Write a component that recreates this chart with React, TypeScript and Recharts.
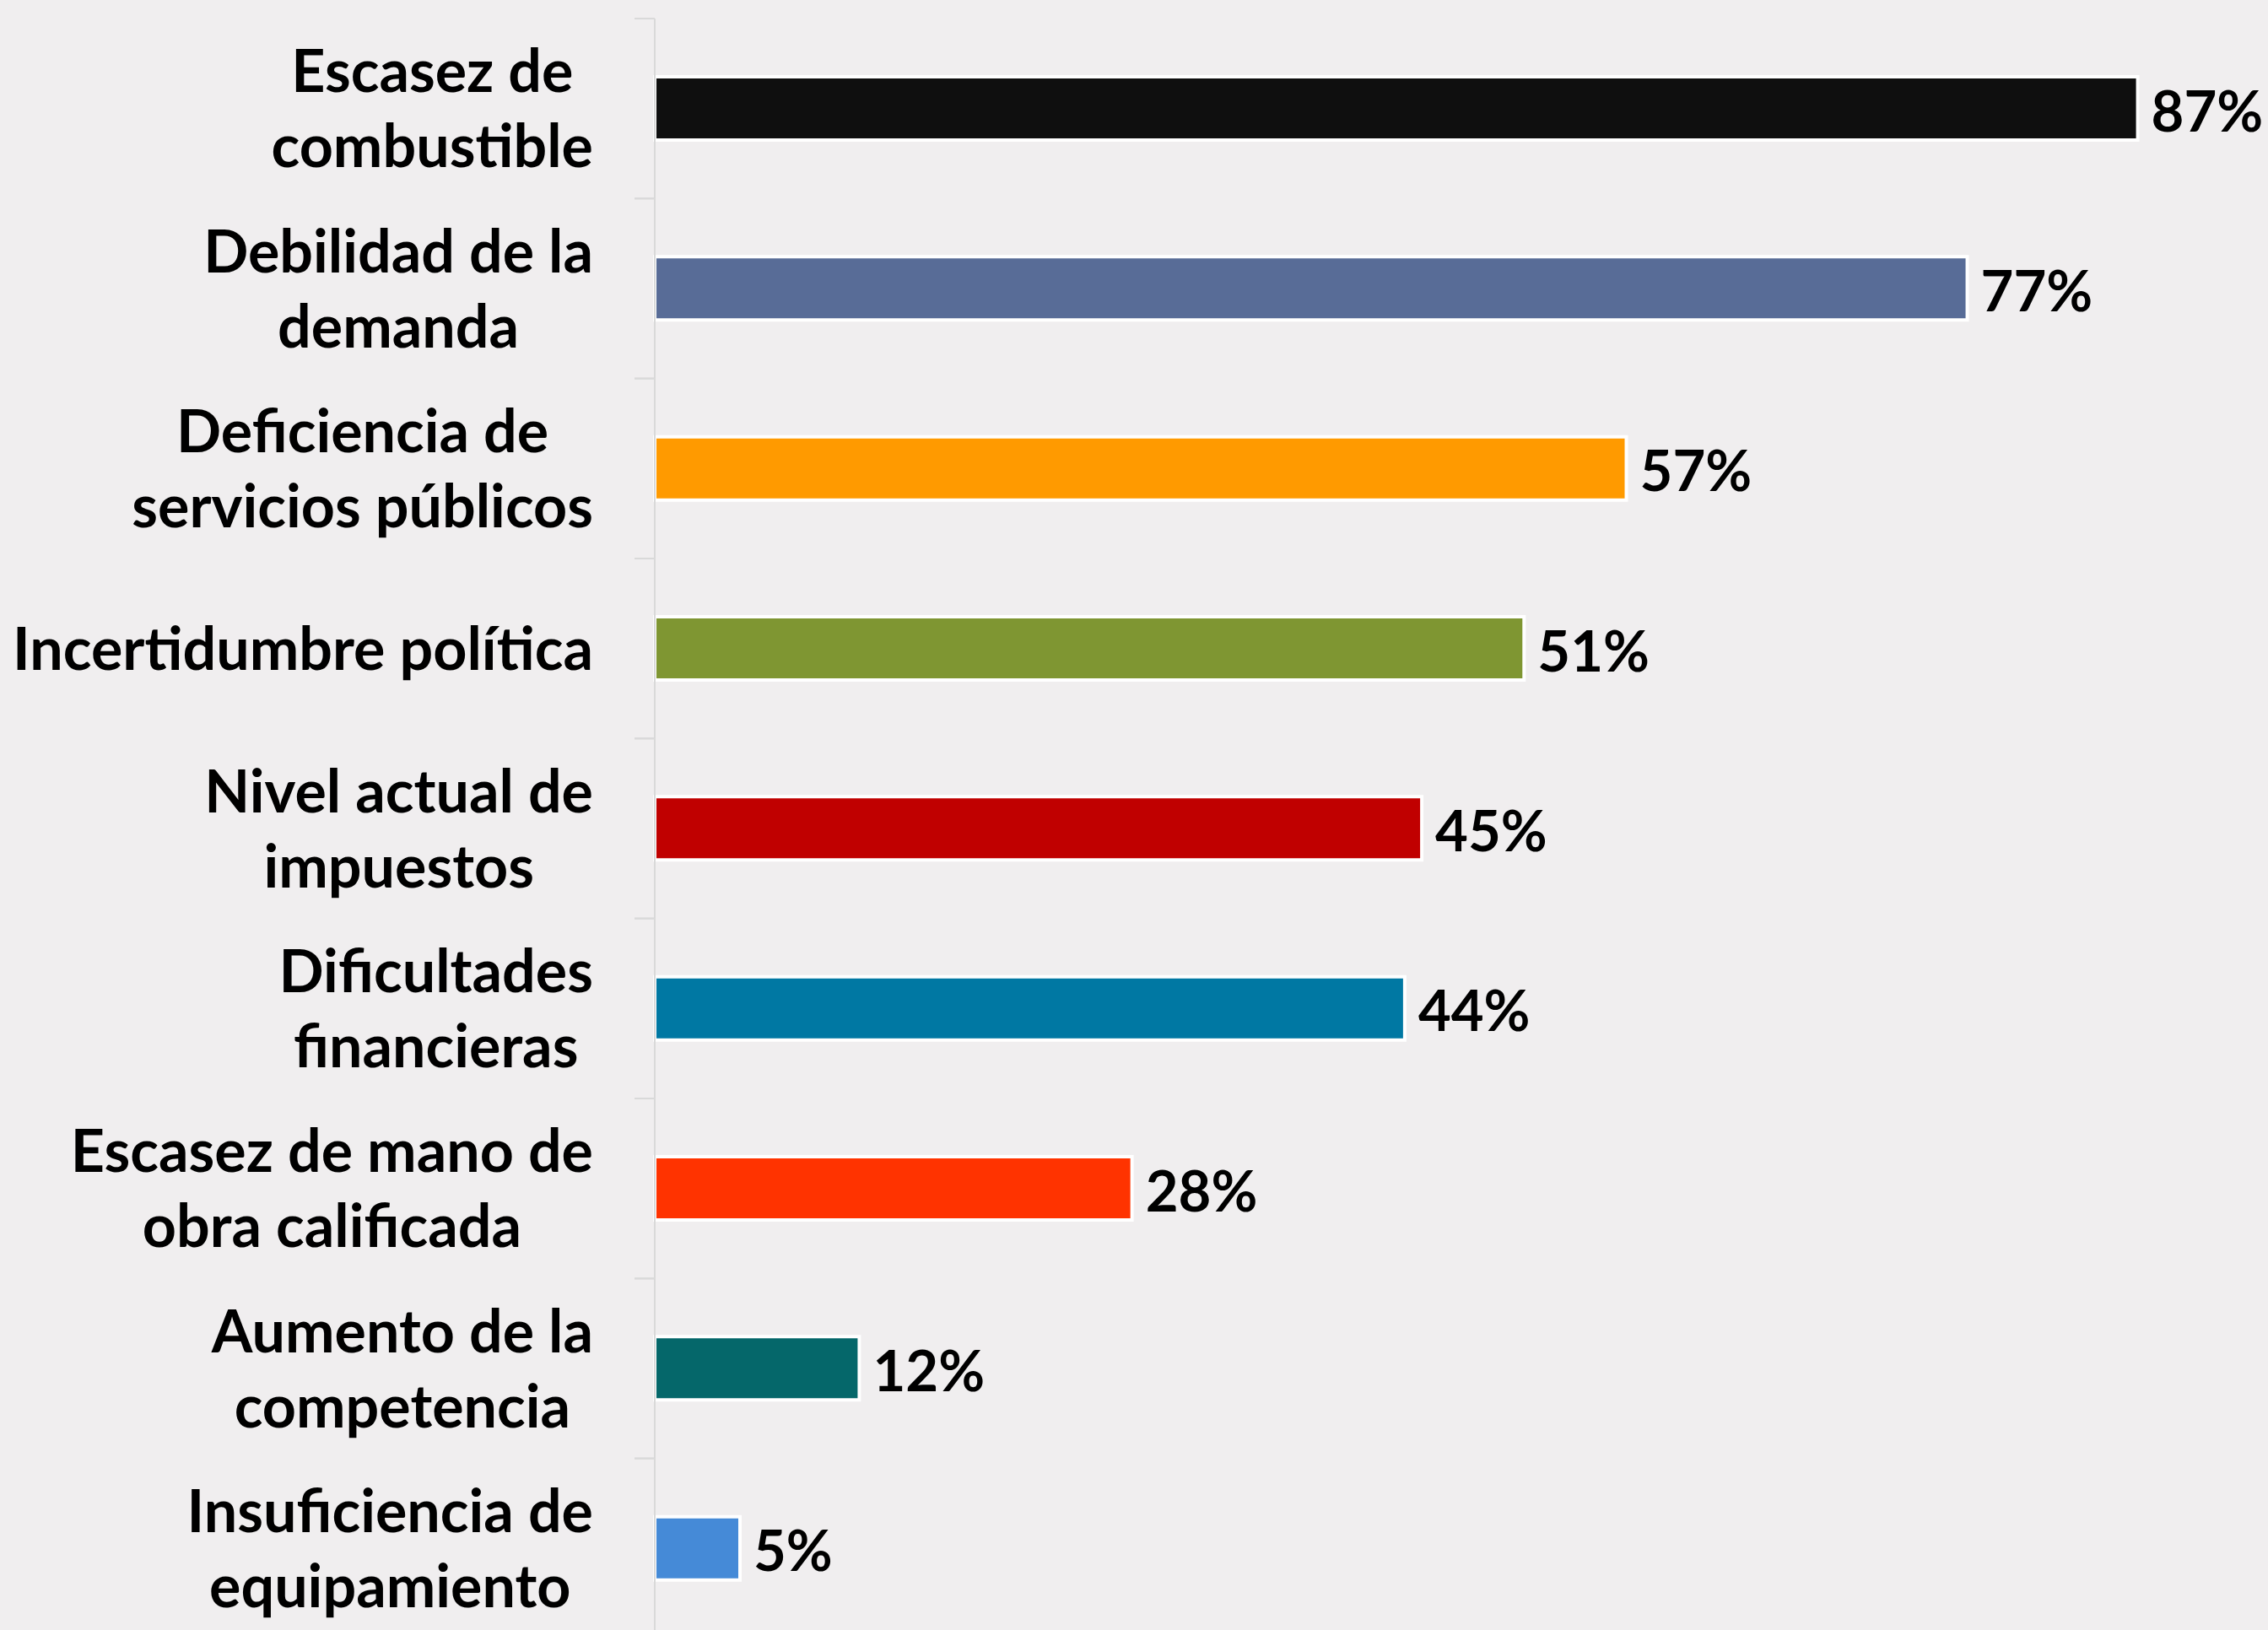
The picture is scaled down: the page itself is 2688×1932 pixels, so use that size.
import React from 'react';
import { BarChart, Bar, XAxis, YAxis, Cell, LabelList } from 'recharts';

const categories = [
  'Escasez de\ncombustible',
  'Debilidad de la\ndemanda',
  'Deficiencia de\nservicios públicos',
  'Incertidumbre política',
  'Nivel actual de\nimpuestos',
  'Dificultades\nfinancieras',
  'Escasez de mano de\nobra calificada',
  'Aumento de la\ncompetencia',
  'Insuficiencia de\nequipamiento',
];
const values = [87, 77, 57, 51, 45, 44, 28, 12, 5];
const colors = ['#0F0F0F', '#586C97', '#FF9A00', '#7F9632', '#C00000', '#0078A3', '#FF3300', '#05676A', '#458AD7'];

const data = categories.map((name, i) => ({ name, value: values[i], color: colors[i] }));

const W = 2688;
const H = 1950;
const TOP = 22;
const BOTTOM = 8;
const AXIS_X = 776;
const LABEL_RIGHT = 703;
const BAND = (H - TOP - BOTTOM) / categories.length;
const FONT = 'Lato, "Open Sans", sans-serif';
const FS = 70;
const VFS = 67;
const LINE_H = 89;

let ctx: CanvasRenderingContext2D | null = null;
function measure(t: string): number {
  if (!ctx) {
    const c = document.createElement('canvas');
    ctx = c.getContext('2d');
  }
  if (!ctx) return t.length * FS * 0.5;
  ctx.font = `700 ${FS}px Lato`;
  return ctx.measureText(t).width;
}

const CatTick = (props: any) => {
  const { y, payload } = props;
  const lines: string[] = String(payload.value).split('\n');
  const w = Math.max(...lines.map(measure));
  const cx = LABEL_RIGHT - w / 2;
  return (
    <g>
      <line x1={AXIS_X - 24} x2={AXIS_X} y1={y - BAND / 2} y2={y - BAND / 2} stroke="#D9D9D9" strokeWidth={2} />
      <line x1={AXIS_X - 24} x2={AXIS_X} y1={y + BAND / 2} y2={y + BAND / 2} stroke="#D9D9D9" strokeWidth={2} />
      {lines.map((ln, i) => (
        <text
          key={i}
          x={cx}
          y={y + (i - (lines.length - 1) / 2) * LINE_H}
          dy="0.36em"
          textAnchor="middle"
          fontFamily={FONT}
          fontWeight={700}
          fontSize={FS}
          fill="#000"
        >
          {ln}
        </text>
      ))}
    </g>
  );
};

const ValueLabel = (props: any) => {
  const { x, y, width, height, value } = props;
  return (
    <text
      x={x + width + 16}
      y={y + height / 2 + 3}
      dy="0.36em"
      textAnchor="start"
      fontFamily={FONT}
      fontWeight={700}
      fontSize={VFS}
      fill="#000"
    >
      {`${value}%`}
    </text>
  );
};

export default function App() {
  return (
    <div style={{ position: 'absolute', left: 0, top: 0, width: 2688, height: 1932, overflow: 'hidden', background: '#F0EEEF' }}>
      <BarChart
        layout="vertical"
        width={W}
        height={H}
        data={data}
        margin={{ top: TOP, right: 13, bottom: BOTTOM, left: 0 }}
      >
        <XAxis type="number" domain={[0, 94]} hide />
        <YAxis
          type="category"
          dataKey="name"
          width={AXIS_X}
          interval={0}
          axisLine={{ stroke: '#D9D9D9', strokeWidth: 2 }}
          tickLine={false}
          tick={<CatTick />}
        />
        <Bar dataKey="value" barSize={75} stroke="#FFFFFF" strokeWidth={4} isAnimationActive={false}>
          {data.map((d, i) => (
            <Cell key={i} fill={d.color} />
          ))}
          <LabelList dataKey="value" content={<ValueLabel />} />
        </Bar>
      </BarChart>
    </div>
  );
}
